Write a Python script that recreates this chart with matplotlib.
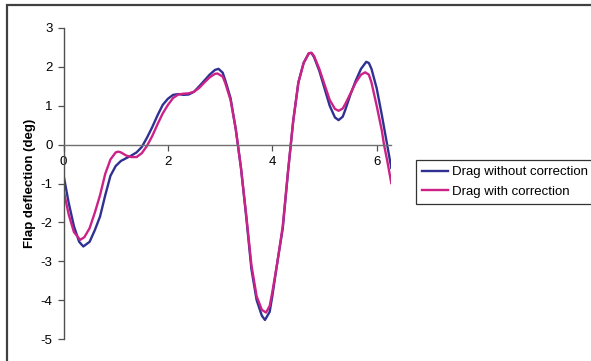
import matplotlib
matplotlib.use("Agg")
import matplotlib.pyplot as plt
from matplotlib.patches import Rectangle

# Drag without correction
x_blue = [0, 0.1, 0.2, 0.3, 0.38, 0.5, 0.6, 0.7, 0.8, 0.9, 1.0, 1.1, 1.2, 1.3, 1.4, 1.5,
          1.6, 1.7, 1.8, 1.9, 2.0, 2.1, 2.2, 2.3, 2.4, 2.5, 2.6, 2.7, 2.8, 2.9, 2.97,
          3.05, 3.1, 3.2, 3.3, 3.4, 3.5, 3.6, 3.7, 3.8, 3.86, 3.95, 4.0, 4.1, 4.2, 4.3,
          4.4, 4.5, 4.6, 4.7, 4.75, 4.8, 4.9, 5.0, 5.1, 5.2, 5.27, 5.35, 5.4, 5.5, 5.6,
          5.7, 5.8, 5.85, 5.9, 6.0, 6.1, 6.2, 6.28]
y_blue = [-0.78, -1.5, -2.1, -2.5, -2.62, -2.5, -2.2, -1.85, -1.3, -0.8, -0.55, -0.42,
          -0.35, -0.28, -0.2, -0.06, 0.18, 0.45, 0.75, 1.02, 1.18, 1.28, 1.30, 1.28, 1.29,
          1.36, 1.50, 1.65, 1.80, 1.92, 1.95, 1.85, 1.65, 1.2, 0.4, -0.6, -1.85, -3.2,
          -4.0, -4.4, -4.51, -4.3, -3.9, -3.0, -2.16, -0.72, 0.6, 1.6, 2.1, 2.35, 2.36,
          2.25, 1.9, 1.45, 1.0, 0.7, 0.63, 0.72, 0.9, 1.3, 1.65, 1.95, 2.13, 2.1, 1.95,
          1.45, 0.75, 0.0, -0.6]

# Drag with correction
x_mag = [0, 0.1, 0.2, 0.32, 0.4, 0.5, 0.6, 0.7, 0.8, 0.9, 1.0, 1.05, 1.1, 1.2, 1.3, 1.4,
         1.5, 1.6, 1.7, 1.8, 1.9, 2.0, 2.1, 2.2, 2.3, 2.4, 2.5, 2.6, 2.7, 2.8, 2.9, 2.95,
         3.05, 3.1, 3.2, 3.3, 3.4, 3.5, 3.6, 3.7, 3.8, 3.88, 3.95, 4.0, 4.1, 4.2, 4.3,
         4.4, 4.5, 4.6, 4.7, 4.75, 4.8, 4.9, 5.0, 5.1, 5.2, 5.27, 5.35, 5.4, 5.5, 5.6,
         5.7, 5.78, 5.85, 5.9, 6.0, 6.1, 6.14, 6.2, 6.28]
y_mag = [-1.17, -1.8, -2.25, -2.45, -2.38, -2.15, -1.75, -1.3, -0.75, -0.38, -0.2, -0.18,
         -0.2, -0.28, -0.32, -0.32, -0.22, -0.03, 0.22, 0.52, 0.8, 1.02, 1.2, 1.29, 1.31,
         1.32, 1.36, 1.46, 1.6, 1.73, 1.82, 1.83, 1.75, 1.58, 1.15, 0.4, -0.6, -1.8, -3.1,
         -3.9, -4.25, -4.32, -4.15, -3.8, -3.0, -2.1, -0.7, 0.6, 1.6, 2.1, 2.35, 2.36,
         2.28, 1.95, 1.55, 1.15, 0.92, 0.87, 0.93, 1.05, 1.32, 1.6, 1.8, 1.86, 1.8, 1.6,
         1.0, 0.35, 0.0, -0.4, -0.99]

x_ticks = [0, 2, 4, 6]
y_ticks = [-5, -4, -3, -2, -1, 0, 1, 2, 3]
series_labels = ["Drag without correction", "Drag with correction"]

plt.rcParams['font.family'] = ['Liberation Sans', 'DejaVu Sans']

W, H = 591, 361
fig = plt.figure(figsize=(W / 100, H / 100), dpi=100)
ax = fig.add_axes([63.5 / W, 1 - 339 / H, (391.3 - 63.5) / W, 311 / H])

l1, = ax.plot(x_blue, y_blue, color='#2E3192', lw=1.7, label=series_labels[0],
              solid_joinstyle='round')
l2, = ax.plot(x_mag, y_mag, color='#CC2288', lw=1.7, label=series_labels[1],
              solid_joinstyle='round')

ax.set_xlim(0, 6.28)
ax.set_ylim(-5, 3)
ax.set_xticks(x_ticks)
ax.set_yticks(y_ticks)
ax.set_yticklabels([str(v) for v in y_ticks])

for s in ['top', 'right']:
    ax.spines[s].set_visible(False)
ax.spines['bottom'].set_position(('data', 0))
ax.spines['bottom'].set_color('#707070')
ax.spines['left'].set_color('#505050')
ax.spines['bottom'].set_linewidth(1.0)
ax.spines['left'].set_linewidth(1.0)
ax.tick_params(axis='both', direction='out', length=4, width=0.9, colors='#505050',
               labelcolor='black', labelsize=9.5)
ax.tick_params(axis='x', pad=4)
ax.tick_params(axis='y', pad=4)
ax.patch.set_visible(False)

ax.set_ylabel("Flap deflection (deg)", fontsize=9.5, fontweight='bold', labelpad=3)

leg = fig.legend(handles=[l1, l2], labels=series_labels, loc='upper left',
                 bbox_to_anchor=(416 / W, 1 - 160 / H), fontsize=9.5, frameon=True,
                 fancybox=False, edgecolor='black', handlelength=2.0, handletextpad=0.25,
                 borderpad=0.45, labelspacing=0.55, borderaxespad=0)
leg.get_frame().set_linewidth(0.9)

frame = Rectangle((7 / W, -0.05), 1.1, 1 - 5 / H + 0.05, transform=fig.transFigure,
                  fill=False, edgecolor='#404040', lw=1.6, clip_on=False)
fig.patches.append(frame)

fig.savefig("out.png", dpi=100)
